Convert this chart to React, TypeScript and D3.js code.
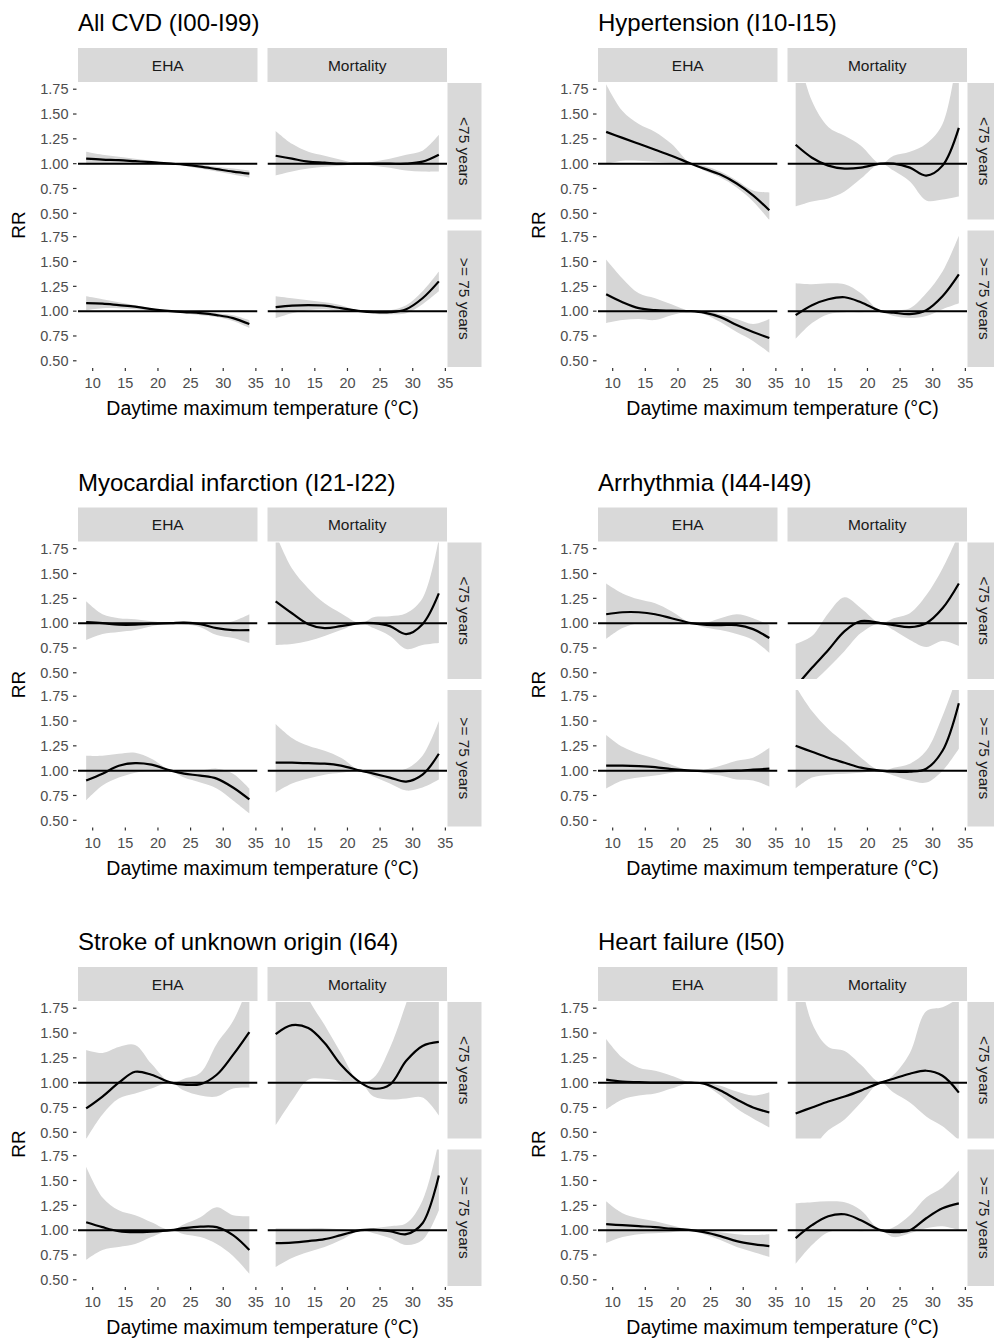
import React from 'react';
import * as d3 from 'd3';

const temps = [9, 11.5, 14, 16.5, 19, 22, 24, 26.5, 29, 31.5, 34];
const xTicks = [10, 15, 20, 25, 30, 35];
const yTicks = [0.5, 0.75, 1.0, 1.25, 1.5, 1.75];
const outcomes = ['EHA', 'Mortality'];
const ageGroups = ['<75 years', '>= 75 years'];
const titles = [
  'All CVD (I00-I99)',
  'Hypertension (I10-I15)',
  'Myocardial infarction (I21-I22)',
  'Arrhythmia (I44-I49)',
  'Stroke of unknown origin (I64)',
  'Heart failure (I50)',
];

// facet order in each array: [EHA <75, Mortality <75, EHA >=75, Mortality >=75]
const cvdFit = [
  [1.05, 1.04, 1.035, 1.025, 1.015, 1.0, 0.99, 0.97, 0.945, 0.92, 0.9],
  [1.08, 1.05, 1.02, 1.01, 1.0, 1.0, 1.0, 1.0, 1.0, 1.02, 1.09],
  [1.08, 1.075, 1.06, 1.045, 1.02, 1.0, 0.99, 0.98, 0.96, 0.93, 0.87],
  [1.04, 1.055, 1.06, 1.055, 1.03, 1.0, 0.99, 0.99, 1.02, 1.13, 1.3],
];
const cvdLo = [
  [0.99, 0.995, 0.995, 0.995, 0.995, 1.0, 0.98, 0.95, 0.92, 0.89, 0.86],
  [0.88, 0.92, 0.95, 0.97, 0.98, 1.0, 0.98, 0.96, 0.93, 0.92, 0.92],
  [1.01, 1.03, 1.03, 1.02, 1.005, 1.0, 0.98, 0.96, 0.94, 0.9, 0.83],
  [0.93, 0.98, 1.01, 1.02, 1.0, 1.0, 0.975, 0.97, 0.98, 1.07, 1.2],
];
const cvdHi = [
  [1.12, 1.09, 1.07, 1.05, 1.03, 1.0, 1.0, 0.99, 0.97, 0.95, 0.93],
  [1.33, 1.2, 1.12, 1.08, 1.04, 1.0, 1.02, 1.05, 1.09, 1.13, 1.29],
  [1.15, 1.12, 1.09, 1.06, 1.03, 1.0, 1.0, 0.995, 0.98, 0.96, 0.91],
  [1.15, 1.13, 1.11, 1.09, 1.06, 1.0, 1.0, 1.01, 1.06, 1.2, 1.4],
];

const hypFit = [
  [1.32, 1.26, 1.2, 1.14, 1.08, 1.0, 0.95, 0.89, 0.8, 0.68, 0.53],
  [1.19, 1.06, 0.98, 0.95, 0.96, 1.0, 1.0, 0.96, 0.88, 0.98, 1.36],
  [1.17, 1.09, 1.03, 1.01, 1.005, 1.0, 0.985, 0.94, 0.86, 0.79, 0.73],
  [0.96, 1.06, 1.12, 1.14, 1.09, 1.0, 0.985, 0.97, 1.01, 1.15, 1.37],
];
const hypLo = [
  [1.0, 1.03, 1.03, 1.02, 1.01, 1.0, 0.93, 0.86, 0.76, 0.62, 0.43],
  [0.57, 0.62, 0.65, 0.72, 0.85, 1.0, 0.93, 0.82, 0.63, 0.64, 0.67],
  [0.88, 0.91, 0.92, 0.91, 0.96, 1.0, 0.97, 0.89, 0.79, 0.7, 0.58],
  [0.72, 0.88, 0.97, 0.99, 0.99, 1.0, 0.95, 0.93, 0.95, 1.02, 1.08],
];
const hypHi = [
  [1.8, 1.53, 1.4, 1.32, 1.2, 1.0, 0.98, 0.92, 0.83, 0.73, 0.71],
  [2.2, 1.63, 1.37, 1.28, 1.18, 1.0, 1.08, 1.12, 1.2, 1.4, 2.2],
  [1.52, 1.33, 1.18, 1.13, 1.07, 1.0, 1.0, 0.97, 0.92, 0.87, 0.92],
  [1.28, 1.27, 1.28, 1.27, 1.18, 1.0, 1.01, 1.03, 1.18, 1.4, 1.76],
];

const miFit = [
  [1.01, 1.0, 0.985, 0.985, 0.995, 1.0, 1.005, 0.99, 0.95, 0.93, 0.93],
  [1.22, 1.1, 0.99, 0.95, 0.97, 1.0, 1.0, 0.97, 0.89, 0.99, 1.3],
  [0.9, 0.97, 1.05, 1.075, 1.06, 1.0, 0.97, 0.95, 0.92, 0.83, 0.71],
  [1.08, 1.08, 1.075, 1.07, 1.05, 1.0, 0.97, 0.93, 0.89, 0.96, 1.17],
];
const miLo = [
  [0.83, 0.89, 0.91, 0.93, 0.97, 1.0, 0.99, 0.96, 0.88, 0.85, 0.8],
  [0.78, 0.79, 0.82, 0.87, 0.93, 1.0, 0.95, 0.87, 0.74, 0.78, 0.8],
  [0.7, 0.85, 0.93, 0.98, 1.0, 1.0, 0.93, 0.88, 0.82, 0.7, 0.57],
  [0.78, 0.87, 0.92, 0.96, 0.98, 1.0, 0.94, 0.87, 0.8, 0.83, 0.91],
];
const miHi = [
  [1.22, 1.09, 1.05, 1.04, 1.02, 1.0, 1.02, 1.01, 1.0, 1.02, 1.09],
  [1.9, 1.55, 1.35, 1.2, 1.1, 1.0, 1.06, 1.07, 1.1, 1.25, 1.85],
  [1.15, 1.15, 1.17, 1.18, 1.12, 1.0, 1.0, 1.0, 1.02, 0.97, 0.82],
  [1.47, 1.33, 1.25, 1.2, 1.13, 1.0, 1.0, 1.0, 1.02, 1.15, 1.5],
];

const arrFit = [
  [1.09, 1.11, 1.11, 1.09, 1.05, 1.0, 0.985, 0.98, 0.98, 0.94, 0.85],
  [0.36, 0.55, 0.73, 0.92, 1.02, 1.0, 0.98, 0.96, 1.0, 1.15, 1.4],
  [1.05, 1.05, 1.045, 1.035, 1.015, 1.0, 0.995, 0.995, 1.0, 1.01, 1.02],
  [1.25, 1.19, 1.13, 1.08, 1.03, 1.0, 0.99, 0.99, 1.02, 1.2, 1.68],
];
const arrLo = [
  [0.84, 0.95, 1.0, 1.0, 0.99, 1.0, 0.96, 0.93, 0.89, 0.83, 0.7],
  [0.3, 0.4, 0.55, 0.72, 0.9, 1.0, 0.93, 0.83, 0.76, 0.82, 0.77],
  [0.82, 0.9, 0.93, 0.95, 0.98, 1.0, 0.98, 0.95, 0.91, 0.9, 0.84],
  [0.82, 0.93, 0.96, 0.97, 0.98, 1.0, 0.95, 0.9, 0.88, 1.0, 1.22],
];
const arrHi = [
  [1.4, 1.3, 1.24, 1.2, 1.12, 1.0, 1.0, 1.05, 1.09, 1.05, 0.98],
  [0.79, 0.87, 1.1, 1.26, 1.15, 1.0, 1.05, 1.1, 1.28, 1.55, 1.9],
  [1.36, 1.24, 1.17, 1.12, 1.06, 1.0, 1.01, 1.05, 1.1, 1.13, 1.23],
  [1.85, 1.6, 1.42, 1.28, 1.13, 1.0, 1.03, 1.07, 1.2, 1.55, 2.0],
];

const strokeFit = [
  [0.74, 0.86, 1.0, 1.11, 1.08, 1.0, 0.98, 0.985, 1.08, 1.28, 1.51],
  [1.49, 1.58, 1.55, 1.4, 1.18, 1.0, 0.94, 0.98, 1.22, 1.37, 1.41],
  [1.08, 1.03, 0.99, 0.98, 0.985, 1.0, 1.02, 1.035, 1.03, 0.95, 0.8],
  [0.87, 0.875, 0.89, 0.91, 0.95, 1.0, 1.005, 0.99, 0.96, 1.07, 1.55],
];
const strokeLo = [
  [0.43, 0.68, 0.84, 0.89, 0.94, 1.0, 0.92, 0.87, 0.86, 0.94, 0.95],
  [0.57, 0.82, 1.03, 1.04, 1.02, 1.0, 0.86, 0.83, 0.84, 0.85, 0.67],
  [0.7, 0.8, 0.83, 0.86, 0.93, 1.0, 0.96, 0.93, 0.86, 0.74, 0.56],
  [0.63, 0.72, 0.78, 0.83, 0.9, 1.0, 0.97, 0.92, 0.85, 0.9, 1.2],
];
const strokeHi = [
  [1.33, 1.3, 1.36, 1.38, 1.19, 1.0, 1.04, 1.1, 1.39, 1.62, 2.0],
  [2.3, 2.3, 1.85, 1.58, 1.3, 1.0, 1.05, 1.35, 1.8, 2.3, 2.3],
  [1.64, 1.33, 1.2, 1.15, 1.08, 1.0, 1.06, 1.13, 1.23, 1.15, 1.14],
  [1.02, 1.02, 1.02, 1.02, 1.01, 1.0, 1.02, 1.04, 1.07, 1.3, 1.9],
];

const hfFit = [
  [1.03, 1.01, 1.005, 1.0, 1.0, 1.0, 0.99, 0.92, 0.83, 0.75, 0.7],
  [0.69, 0.75, 0.81, 0.86, 0.92, 1.0, 1.04, 1.09, 1.12, 1.07, 0.9],
  [1.06, 1.05, 1.04, 1.03, 1.015, 1.0, 0.98, 0.94, 0.89, 0.86, 0.84],
  [0.92, 1.05, 1.14, 1.16, 1.1, 1.0, 0.98, 1.0, 1.12, 1.22, 1.27],
];
const hfLo = [
  [0.73, 0.83, 0.87, 0.89, 0.94, 1.0, 0.98, 0.87, 0.74, 0.64, 0.55],
  [0.3, 0.35, 0.52, 0.63, 0.8, 1.0, 0.9, 0.8, 0.66, 0.56, 0.42],
  [0.87, 0.93, 0.96, 0.97, 0.98, 1.0, 0.96, 0.9, 0.83, 0.78, 0.73],
  [0.66, 0.85, 0.98, 1.0, 0.99, 1.0, 0.93, 0.97, 1.02, 1.04, 1.0],
];
const hfHi = [
  [1.44, 1.25, 1.15, 1.12, 1.07, 1.0, 1.0, 0.97, 0.91, 0.87, 0.9],
  [2.3, 1.6, 1.36, 1.32, 1.18, 1.0, 1.08, 1.3, 1.72, 1.76, 1.85],
  [1.29, 1.17, 1.12, 1.09, 1.05, 1.0, 1.0, 0.98, 0.96, 0.95, 0.96],
  [1.27, 1.28, 1.29, 1.28, 1.2, 1.0, 1.03, 1.15, 1.33, 1.43, 1.6],
];

const fits = [cvdFit, hypFit, miFit, arrFit, strokeFit, hfFit];
const los = [cvdLo, hypLo, miLo, arrLo, strokeLo, hfLo];
const his = [cvdHi, hypHi, miHi, arrHi, strokeHi, hfHi];

const FONT = '"Liberation Sans", Arial, Helvetica, sans-serif';
const W = 994;
const H = 1339;
const blockX = [0, 520];
const blockY = [0, 459.5, 919];
const facetX = [78, 267.5];
const facetY = [83, 230.5];
const PW = 179.5;
const PH = 136.5;
const RIBBON = '#d6d6d6';
const STRIP = '#d9d9d9';

function Facet({ bx, by, col, row, fit, lo, hi, id }) {
  const x0 = bx + facetX[col];
  const y0 = by + facetY[row];
  const x = d3.scaleLinear().domain([7.75, 35.25]).range([x0, x0 + PW]);
  const y = d3.scaleLinear().domain([0.4375, 1.8125]).range([y0 + PH, y0]);
  const curve = d3.curveCatmullRom.alpha(0.5);
  const idx = d3.range(temps.length);
  const area = d3
    .area<number>()
    .x((i) => x(temps[i]))
    .y0((i) => y(lo[i]))
    .y1((i) => y(hi[i]))
    .curve(curve);
  const line = d3
    .line<number>()
    .x((i) => x(temps[i]))
    .y((i) => y(fit[i]))
    .curve(curve);
  return (
    <g>
      <defs>
        <clipPath id={id}>
          <rect x={x0} y={y0} width={PW} height={PH} />
        </clipPath>
      </defs>
      <g clipPath={`url(#${id})`}>
        <path d={area(idx) || ''} fill={RIBBON} stroke="none" />
        <line x1={x0} x2={x0 + PW} y1={y(1)} y2={y(1)} stroke="#000" strokeWidth={2} />
        <path d={line(idx) || ''} fill="none" stroke="#000" strokeWidth={2.2} strokeLinejoin="round" />
      </g>
      {col === 0 &&
        yTicks.map((t) => (
          <g key={t}>
            <line x1={x0 - 5} x2={x0 - 1.5} y1={y(t)} y2={y(t)} stroke="#333" strokeWidth={1.2} />
            <text x={x0 - 9.5} y={y(t)} dy="0.36em" textAnchor="end" fontSize={14.5} fill="#4d4d4d" fontFamily={FONT}>
              {t.toFixed(2)}
            </text>
          </g>
        ))}
      {row === 1 &&
        xTicks.map((t) => (
          <g key={t}>
            <line x1={x(t)} x2={x(t)} y1={y0 + PH + 1} y2={y0 + PH + 4} stroke="#333" strokeWidth={1.2} />
            <text x={x(t)} y={y0 + PH + 21} textAnchor="middle" fontSize={14.5} fill="#4d4d4d" fontFamily={FONT}>
              {t}
            </text>
          </g>
        ))}
    </g>
  );
}

function Block({ b }) {
  const bx = blockX[b % 2];
  const by = blockY[Math.floor(b / 2)];
  const facets = [];
  for (let row = 0; row < 2; row++) {
    for (let col = 0; col < 2; col++) {
      const k = row * 2 + col;
      facets.push(
        <Facet
          key={k}
          bx={bx}
          by={by}
          col={col}
          row={row}
          fit={fits[b][k]}
          lo={los[b][k]}
          hi={his[b][k]}
          id={`clip-${b}-${k}`}
        />
      );
    }
  }
  const stripRight = bx + facetX[1] + PW;
  return (
    <g>
      <text x={bx + 78} y={by + 31} fontSize={24} fill="#000" fontFamily={FONT}>
        {titles[b]}
      </text>
      {outcomes.map((o, c) => (
        <g key={o}>
          <rect x={bx + facetX[c]} y={by + 48} width={PW} height={34} fill={STRIP} />
          <text
            x={bx + facetX[c] + PW / 2}
            y={by + 65}
            dy="0.36em"
            textAnchor="middle"
            fontSize={15.5}
            fill="#1a1a1a"
            fontFamily={FONT}
          >
            {o}
          </text>
        </g>
      ))}
      {ageGroups.map((a, r) => (
        <g key={a}>
          <rect x={stripRight + 0.5} y={by + facetY[r]} width={34} height={PH} fill={STRIP} />
          <text
            transform={`translate(${stripRight + 17.5},${by + facetY[r] + PH / 2}) rotate(90)`}
            dy="0.36em"
            textAnchor="middle"
            fontSize={15.5}
            fill="#1a1a1a"
            fontFamily={FONT}
          >
            {a}
          </text>
        </g>
      ))}
      {facets}
      <text
        transform={`translate(${bx + 18},${by + (facetY[0] + facetY[1] + PH) / 2}) rotate(-90)`}
        dy="0.36em"
        textAnchor="middle"
        fontSize={19}
        fill="#000"
        fontFamily={FONT}
      >
        RR
      </text>
      <text
        x={bx + (facetX[0] + facetX[1] + PW) / 2}
        y={by + 415}
        textAnchor="middle"
        fontSize={19.5}
        fill="#000"
        fontFamily={FONT}
      >
        Daytime maximum temperature (°C)
      </text>
    </g>
  );
}

export default function App() {
  return (
    <svg
      width={W}
      height={H}
      viewBox={`0 0 ${W} ${H}`}
      style={{ position: 'absolute', left: 0, top: 0, background: '#fff' }}
    >
      <rect x={0} y={0} width={W} height={H} fill="#fff" />
      {titles.map((t, b) => (
        <Block key={t} b={b} />
      ))}
    </svg>
  );
}
